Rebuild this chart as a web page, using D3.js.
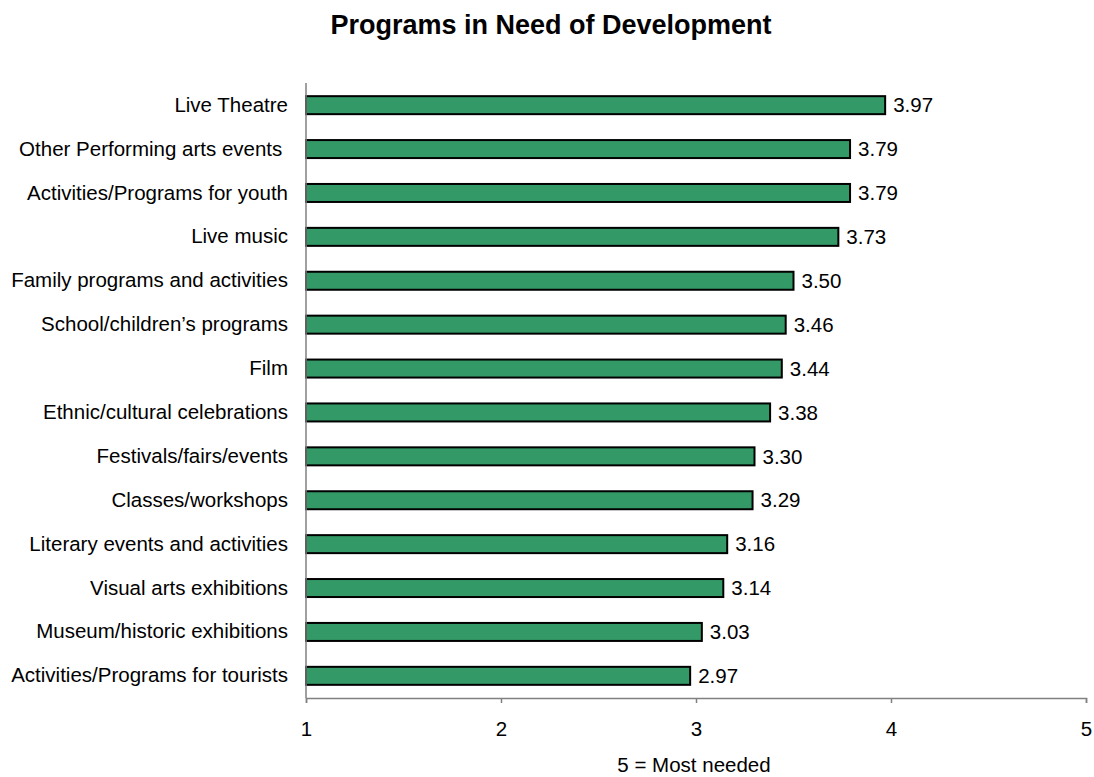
<!DOCTYPE html>
<html>
<head>
<meta charset="utf-8">
<script src="https://cdn.jsdelivr.net/npm/d3@7"></script>
<style>
  body { margin: 0; background: #fff; }
  text { font-family: Arial, "Liberation Sans", sans-serif; white-space: pre; }
</style>
</head>
<body>
<svg id="chart" width="1094" height="777"></svg>
<script>
const categories = [
  "Live Theatre",
  "Other Performing arts events ",
  "Activities/Programs for youth",
  "Live music",
  "Family programs and activities",
  "School/children\u2019s programs",
  "Film",
  "Ethnic/cultural celebrations",
  "Festivals/fairs/events",
  "Classes/workshops",
  "Literary events and activities",
  "Visual arts exhibitions",
  "Museum/historic exhibitions",
  "Activities/Programs for tourists"
];
const values = [3.97, 3.79, 3.79, 3.73, 3.50, 3.46, 3.44, 3.38, 3.30, 3.29, 3.16, 3.14, 3.03, 2.97];
const xTicks = [1, 2, 3, 4, 5];
const title = "Programs in Need of Development";
const xTitle = "5 = Most needed";

(function () {
const svg = d3.select("#chart");
const pLeft = 306, pRight = 1086, pTop = 83, pBottom = 698;
const fs = "20.5px";
const ff = "Arial, 'Liberation Sans', sans-serif";

const x = d3.scaleLinear().domain([1, 5]).range([pLeft, pRight]);
const y = d3.scaleBand().domain(categories).range([pTop, pBottom]).paddingInner(0.59).paddingOuter(0.3);

svg.append("text")
  .attr("x", 551).attr("y", 34)
  .attr("text-anchor", "middle")
  .attr("font-size", "27px").attr("font-weight", "bold")
  .text(title);

svg.selectAll("rect.bar").data(values).enter().append("rect")
  .attr("class", "bar")
  .attr("x", x(1))
  .attr("y", (d, i) => y(categories[i]))
  .attr("width", d => x(d) - x(1))
  .attr("height", y.bandwidth())
  .attr("fill", "#339966")
  .attr("stroke", "#000")
  .attr("stroke-width", 2);

svg.selectAll("text.val").data(values).enter().append("text")
  .attr("class", "val")
  .attr("x", d => x(d) + 8)
  .attr("y", (d, i) => y(categories[i]) + y.bandwidth() / 2)
  .attr("dy", "0.35em")
  .attr("font-size", fs)
  .text(d => d.toFixed(2));

const yAxis = svg.append("g").attr("transform", `translate(${pLeft},0)`)
  .call(d3.axisLeft(y).tickSize(0).tickPadding(18));
yAxis.select(".domain").attr("stroke", "#808080").attr("stroke-width", 1.5)
  .attr("d", `M0,${pTop}V${pBottom}`);
yAxis.selectAll("text").attr("font-size", fs).attr("fill", "#000")
  .attr("xml:space", "preserve")
  .style("white-space", "pre")
  .style("font-family", ff);

const xAxis = svg.append("g").attr("transform", `translate(0,${pBottom})`)
  .call(d3.axisBottom(x).tickValues(xTicks).tickFormat(d3.format("d")).tickSizeOuter(0).tickSize(5).tickPadding(18));
xAxis.select(".domain").attr("stroke", "#808080").attr("stroke-width", 1.5);
xAxis.selectAll("line").attr("stroke", "#808080").attr("stroke-width", 1.5);
xAxis.selectAll("text").attr("font-size", fs).attr("fill", "#000")
  .style("font-family", ff);

svg.append("text")
  .attr("x", 694).attr("y", 772)
  .attr("text-anchor", "middle")
  .attr("font-size", fs)
  .text(xTitle);
})();
</script>
</body>
</html>
